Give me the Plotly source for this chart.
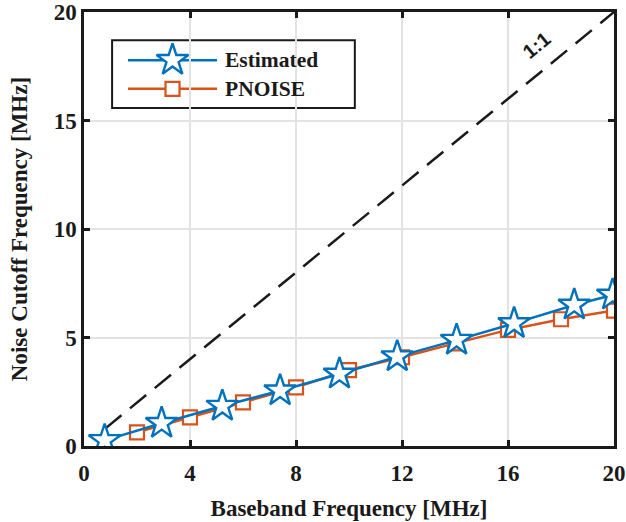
import plotly.graph_objects as go

# Estimated noise cutoff vs. baseband frequency
est_x = [0.78, 2.93, 5.22, 7.40, 9.64, 11.82, 14.06, 16.23, 18.50, 19.95]
est_y = [0.26, 1.05, 1.84, 2.55, 3.32, 4.12, 4.88, 5.65, 6.50, 6.96]

# PNOISE simulation results
pn_x = [2.0, 4.0, 6.0, 8.0, 10.0, 12.0, 14.0, 16.0, 18.0, 20.0]
pn_y = [0.63, 1.32, 2.01, 2.70, 3.50, 4.09, 4.73, 5.35, 5.84, 6.24]

# 1:1 reference line
ref_x = [0.8, 20.0]
ref_y = [0.8, 20.0]

x_ticks = [0, 4, 8, 12, 16, 20]
y_ticks = [0, 5, 10, 15, 20]

series_names = ["Estimated", "PNOISE"]

BLUE = "#0072BD"
ORANGE = "#D95319"
INK = "#1a1a1a"
FONT = "Liberation Serif"

STAR = dict(symbol="star", size=24, color="white", line=dict(color=BLUE, width=2.4))
SQUARE = dict(symbol="square", size=14, color="white", line=dict(color=ORANGE, width=2.2))

fig = go.Figure()

fig.add_trace(go.Scatter(
    x=ref_x, y=ref_y, mode="lines", showlegend=False,
    line=dict(color=INK, width=2.5, dash="21px,11px"),
    hoverinfo="skip",
))

fig.add_trace(go.Scatter(
    x=pn_x, y=pn_y, mode="lines+markers", name=series_names[1], showlegend=False,
    line=dict(color=ORANGE, width=2.5), marker=SQUARE,
))

fig.add_trace(go.Scatter(
    x=est_x, y=est_y, mode="lines+markers", name=series_names[0], showlegend=False,
    line=dict(color=BLUE, width=2.5), marker=STAR,
))

fig.add_annotation(
    x=17.08, y=18.48, text="<b>1:1</b>", showarrow=False,
    textangle=-39, font=dict(family="Liberation Sans", size=20, color=INK),
)

# Legend box (paper coordinates, drawn above grid, below traces)
box = dict(x0=0.053, x1=0.511, y0=0.779, y1=0.935)
fig.add_shape(type="rect", xref="paper", yref="paper", layer="between",
              fillcolor="white", line=dict(color=INK, width=2), **box)

entry_y = [0.889, 0.823]
line_x = [0.083, 0.251]
mark_x = 0.167
text_x = 0.262
colors = [BLUE, ORANGE]
markers = [STAR, SQUARE]
for name, yy, col, mk in zip(series_names, entry_y, colors, markers):
    fig.add_shape(type="line", xref="paper", yref="paper", layer="between",
                  x0=line_x[0], x1=line_x[1], y0=yy, y1=yy,
                  line=dict(color=col, width=2.5))
    fig.add_trace(go.Scatter(
        x=[mark_x], y=[yy], xaxis="x2", yaxis="y2", mode="markers",
        marker=mk, showlegend=False, hoverinfo="skip",
    ))
    fig.add_annotation(x=text_x, y=yy, xref="paper", yref="paper",
                       xanchor="left", yanchor="middle", showarrow=False,
                       text=f"<b>{name}</b>",
                       font=dict(family=FONT, size=21.5, color=INK))

axis_common = dict(
    showline=True, linecolor=INK, linewidth=2.5, mirror="ticks",
    ticks="inside", ticklen=6, tickwidth=2.5, tickcolor=INK,
    showgrid=True, gridcolor="#e3e3e3", gridwidth=2,
    zeroline=False, automargin=False,
    tickfont=dict(family=FONT, size=23, color=INK),
)
title_font = dict(family=FONT, size=23, color=INK)

fig.update_xaxes(
    range=[0, 20], tickvals=x_ticks, ticktext=[f"<b>{v}</b>" for v in x_ticks],
    ticklabelstandoff=5,
    title=dict(text="<b>Baseband Frequency [MHz]</b>", font=title_font),
    **axis_common,
)
fig.update_yaxes(
    range=[0, 20], tickvals=y_ticks, ticktext=[f"<b>{v}</b>" for v in y_ticks],
    title=dict(text="<b>Noise Cutoff Frequency [MHz]</b>", font=title_font,
               standoff=20),
    **axis_common,
)

fig.update_layout(
    width=626, height=522,
    margin=dict(l=84, r=12, t=12, b=76),
    plot_bgcolor="white", paper_bgcolor="white",
    xaxis2=dict(overlaying="x", range=[0, 1], visible=False, fixedrange=True),
    yaxis2=dict(overlaying="y", range=[0, 1], visible=False, fixedrange=True),
    showlegend=False,
)

fig.write_html("out.html")
